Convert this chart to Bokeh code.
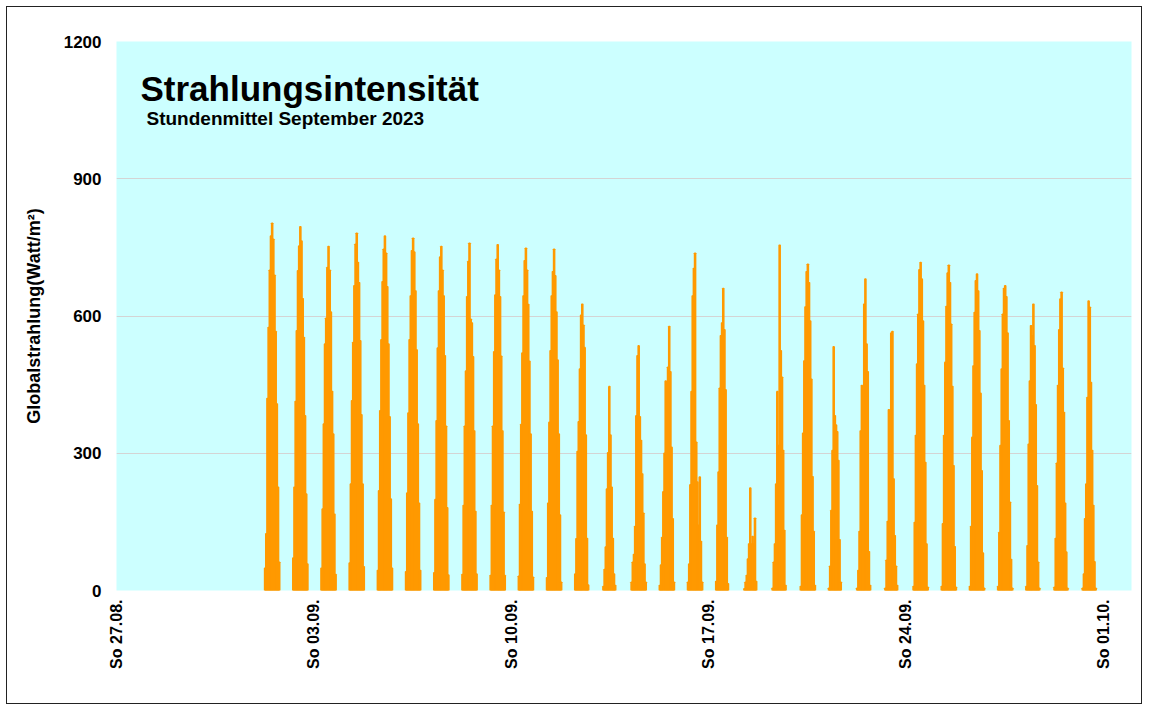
import math
from datetime import datetime, timedelta

from bokeh.plotting import figure
from bokeh.models import Range1d, FixedTicker, Label, ColumnDataSource
from bokeh.embed import file_html
from bokeh.resources import INLINE

# ---------------- data (hourly means, W/m², first value = hour 06-07) ----------------
first_hour = 6
sep01 = [49, 124, 420, 575, 700, 775, 803, 768, 689, 566, 408, 226, 62]
sep02 = [71, 226, 413, 568, 699, 753, 795, 764, 638, 553, 382, 211, 58]
sep03 = [49, 178, 364, 539, 595, 706, 752, 700, 609, 435, 342, 167, 35]
sep04 = [60, 233, 415, 542, 666, 757, 781, 717, 673, 546, 384, 233, 52]
sep05 = [44, 218, 393, 548, 675, 746, 775, 737, 664, 539, 380, 200, 49]
sep06 = [41, 213, 388, 548, 644, 743, 770, 740, 655, 526, 364, 191, 44]
sep07 = [39, 199, 371, 530, 655, 729, 752, 700, 644, 513, 359, 181, 34]
sep08 = [35, 186, 359, 480, 642, 719, 759, 593, 585, 511, 349, 173, 36]
sep09 = [33, 186, 359, 522, 646, 724, 756, 700, 642, 512, 349, 171, 33]
sep10 = [31, 188, 363, 519, 644, 721, 748, 700, 625, 501, 342, 173, 29]
sep11 = [28, 191, 368, 524, 644, 697, 746, 688, 609, 504, 342, 165, 18]
sep12 = [36, 113, 304, 369, 484, 602, 626, 580, 531, 340, 114, 12]
sep13 = [9, 46, 95, 222, 301, 446, 340, 226, 114, 36, 11]
sep14 = [18, 62, 79, 140, 382, 513, 535, 380, 328, 255, 169, 58, 18]
sep15 = [11, 56, 116, 216, 300, 458, 244, 488, 577, 478, 313, 157, 18]
sep16 = [18, 58, 231, 435, 644, 704, 737, 324, 237, 143, 248, 107, 18]
sep17 = [20, 143, 259, 442, 557, 585, 660, 570, 439, 116, 15]
sep18 = [4, 18, 33, 69, 102, 224, 102, 118, 102, 158, 20]
sep19 = [5, 62, 102, 233, 435, 317, 755, 524, 466, 306, 131, 11]
sep20 = [9, 165, 344, 502, 620, 697, 713, 673, 589, 462, 249, 129, 11]
sep21 = [5, 53, 175, 306, 533, 382, 362, 347, 284, 111, 18]
sep22 = [5, 44, 129, 349, 448, 400, 626, 681, 539, 478, 85, 11]
sep23 = [5, 66, 151, 395, 346, 563, 566, 244, 120, 53, 11]
sep24 = [9, 149, 339, 495, 604, 701, 717, 681, 589, 448, 280, 102, 7]
sep25 = [9, 146, 339, 499, 621, 694, 711, 673, 582, 446, 273, 96, 7]
sep26 = [9, 140, 335, 491, 608, 677, 692, 655, 568, 431, 262, 82, 5]
sep27 = [9, 127, 317, 484, 604, 660, 666, 642, 563, 371, 193, 68, 5]
sep28 = [9, 98, 320, 458, 579, 557, 626, 535, 406, 229, 62, 5]
sep29 = [7, 114, 278, 448, 570, 637, 652, 486, 389, 191, 84, 5]
sep30 = [5, 36, 157, 233, 422, 633, 619, 455, 306, 186, 63, 5]

week_ticks = ["2023-08-27", "2023-09-03", "2023-09-10", "2023-09-17", "2023-09-24", "2023-10-01"]
week_labels = ["So 27.08.", "So 03.09.", "So 10.09.", "So 17.09.", "So 24.09.", "So 01.10."]
y_ticks = [0, 300, 600, 900, 1200]

title_text = "Strahlungsintensität"
subtitle_text = "Stundenmittel September 2023"
y_label = "Globalstrahlung(Watt/m²)"

# ---------------- build ----------------
days = [sep01, sep02, sep03, sep04, sep05, sep06, sep07, sep08, sep09, sep10,
        sep11, sep12, sep13, sep14, sep15, sep16, sep17, sep18, sep19, sep20,
        sep21, sep22, sep23, sep24, sep25, sep26, sep27, sep28, sep29, sep30]

xs, tops = [], []
for d, vals in enumerate(days, start=1):
    for i, v in enumerate(vals):
        xs.append(datetime(2023, 9, d, first_hour + i) + timedelta(minutes=30))
        tops.append(v)
src = ColumnDataSource(dict(x=xs, top=tops))

epoch = datetime(1970, 1, 1)
def ms(dt):
    return (dt - epoch).total_seconds() * 1000.0

x_start = datetime(2023, 8, 27)
x_end = datetime(2023, 10, 2)

FONT = "Liberation Sans"

p = figure(width=1136, height=698, output_backend="svg", toolbar_location=None,
           x_axis_type="datetime",
           x_range=Range1d(x_start, x_end), y_range=Range1d(0, 1200),
           min_border_left=109, min_border_right=12, min_border_top=34, min_border_bottom=115)
p.styles = {"border": "1px solid #222222", "margin": "6px 0px 0px 6px"}

p.vbar(x="x", top="top", width=3600 * 1000, source=src,
       fill_color="#FF9900", line_color="#FF9900", line_width=1.4)

p.background_fill_color = "#CCFFFF"
p.border_fill_color = "white"
p.outline_line_color = None

# y axis
p.yaxis.ticker = FixedTicker(ticks=y_ticks)
p.yaxis.axis_line_color = None
p.yaxis.major_tick_line_color = None
p.yaxis.minor_tick_line_color = None
p.yaxis.major_tick_out = 0
p.yaxis.major_tick_in = 0
p.yaxis.minor_tick_out = 0
p.yaxis.major_label_text_font = FONT
p.yaxis.major_label_text_font_style = "bold"
p.yaxis.major_label_text_font_size = "17px"
p.yaxis.major_label_text_color = "black"
p.yaxis.major_label_standoff = 15
p.yaxis.axis_label = y_label
p.yaxis.axis_label_text_font = FONT
p.yaxis.axis_label_text_font_style = "bold"
p.yaxis.axis_label_text_font_size = "18px"
p.yaxis.axis_label_text_color = "black"
p.yaxis.axis_label_standoff = 17

# x axis
tick_ms = [ms(datetime.strptime(t, "%Y-%m-%d")) for t in week_ticks]
p.xaxis.ticker = FixedTicker(ticks=tick_ms)
p.xaxis.major_label_overrides = {t: lab for t, lab in zip(tick_ms, week_labels)}
p.xaxis.major_label_orientation = math.pi / 2
p.xaxis.axis_line_color = None
p.xaxis.major_tick_line_color = None
p.xaxis.minor_tick_line_color = None
p.xaxis.major_tick_out = 0
p.xaxis.major_tick_in = 0
p.xaxis.minor_tick_out = 0
p.xaxis.major_label_text_font = FONT
p.xaxis.major_label_text_font_style = "bold"
p.xaxis.major_label_text_font_size = "16px"
p.xaxis.major_label_text_color = "black"
p.xaxis.major_label_standoff = 9

# grid
p.xgrid.grid_line_color = None
p.ygrid.ticker = FixedTicker(ticks=y_ticks)
p.ygrid.grid_line_color = "#D4D4D4"
p.ygrid.grid_line_width = 1

# titles inside plot area
span = ms(x_end) - ms(x_start)
tx = ms(x_start) + span * (24 / 1015)
sx = ms(x_start) + span * (30 / 1015)
p.add_layout(Label(x=tx, y=1097, text=title_text, text_font=FONT, text_font_style="bold",
                   text_font_size="35px", text_color="black", text_baseline="alphabetic"))
p.add_layout(Label(x=sx, y=1031, text=subtitle_text, text_font=FONT, text_font_style="bold",
                   text_font_size="19px", text_color="black", text_baseline="alphabetic"))

open("out.html", "w").write(file_html(p, INLINE))
